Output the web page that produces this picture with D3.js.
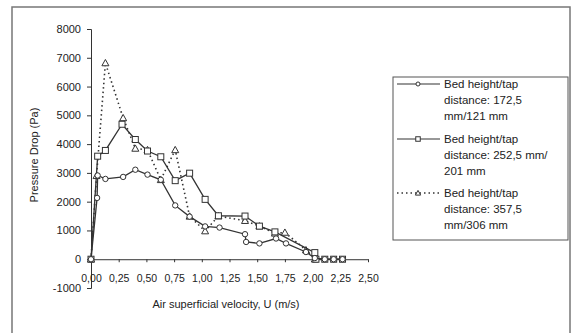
<!DOCTYPE html>
<html><head><meta charset="utf-8">
<script src="https://cdn.jsdelivr.net/npm/d3@7"></script>
<style>body{margin:0;background:#fff}svg{display:block}text{font-family:"Liberation Sans",Arial,sans-serif;fill:#222}</style>
</head><body><svg id="c" width="572" height="333"></svg>
<script>
const xTicks = [0,0.25,0.5,0.75,1,1.25,1.5,1.75,2,2.25,2.5];
const yTicks = [-1000,0,1000,2000,3000,4000,5000,6000,7000,8000];
const seriesNames = [
  ["Bed height/tap","distance: 172,5","mm/121 mm"],
  ["Bed height/tap","distance: 252,5 mm/","201 mm"],
  ["Bed height/tap","distance: 357,5","mm/306 mm"]
];
const s1U = [0,0.055,0.06,0.13,0.29,0.40,0.51,0.63,0.76,0.89,1.03,1.16,1.39,1.40,1.52,1.67,1.76,1.94,2.02,2.11,2.19,2.27];
const s1P = [0,2130,2910,2790,2860,3110,2940,2760,1870,1480,1140,1100,870,600,550,720,550,250,40,0,0,0];
const s2U = [0,0.06,0.13,0.28,0.40,0.51,0.63,0.76,0.89,1.03,1.15,1.39,1.52,1.66,2.02,2.03,2.11,2.19,2.27];
const s2P = [0,3580,3780,4690,4160,3760,3560,2730,2990,2080,1510,1500,1150,950,230,0,0,0,0];
const s3U = [0,0.05,0.13,0.29,0.40,0.51,0.63,0.76,0.89,1.03,1.15,1.39,1.52,1.66,1.75,1.94,2.02];
const s3P = [0,2900,6820,4910,3850,3800,2760,3800,1490,980,1500,1340,1150,900,930,320,0];

const svg = d3.select("#c");
svg.append("rect").attr("x",12).attr("y",7).attr("width",558).attr("height",340)
  .attr("fill","none").attr("stroke","#777").attr("stroke-width",1.5);

const x = d3.scaleLinear().domain([0,2.5]).range([91,368]);
const y = d3.scaleLinear().domain([-1000,8000]).range([288,29]);
const fmt = d => d3.format(".2f")(d).replace(".",",");

const gy = svg.append("g").attr("transform",`translate(${x(0)},0)`)
  .call(d3.axisLeft(y).tickValues(yTicks).tickSize(4).tickPadding(6).tickFormat(d=>d));
gy.selectAll("text").style("font-size","11px");
const gx = svg.append("g").attr("transform",`translate(0,${y(0)})`)
  .call(d3.axisBottom(x).tickValues(xTicks).tickSize(3).tickPadding(12).tickFormat(fmt).tickSizeOuter(0));
gx.selectAll("text").style("font-size","10.5px");
svg.selectAll(".domain, .tick line").attr("stroke","#333");

svg.append("text").attr("transform","translate(38,155) rotate(-90)").attr("text-anchor","middle")
  .style("font-size","11px").text("Pressure Drop (Pa)");
svg.append("text").attr("x",226).attr("y",308).attr("text-anchor","middle")
  .style("font-size","11px").text("Air superficial velocity, U (m/s)");

const line = d3.line().x(d=>x(d[0])).y(d=>y(d[1]));
const data = [
  {u:s1U,p:s1P,dash:null,m:"circle"},
  {u:s2U,p:s2P,dash:null,m:"square"},
  {u:s3U,p:s3P,dash:"1.5,3",m:"triangle"}
];
function marker(g,type,cx,cy,k){
  k = k||1;
  if(type==="circle") g.append("circle").attr("cx",cx).attr("cy",cy).attr("r",2.7*k);
  else if(type==="square") g.append("rect").attr("x",cx-3*k).attr("y",cy-3*k).attr("width",6*k).attr("height",6*k);
  else g.append("path").attr("d",`M${cx},${cy-3.5*k}L${cx+3.5*k},${cy+2.8*k}L${cx-3.5*k},${cy+2.8*k}Z`);
}
data.slice().reverse().forEach(s=>{
  const pts = s.u.map((u,i)=>[u,s.p[i]]);
  svg.append("path").datum(pts).attr("d",line).attr("fill","none").attr("stroke","#333")
    .attr("stroke-width",s.dash?1.6:1.3).attr("stroke-dasharray",s.dash);
  const g = svg.append("g").attr("fill","#fff").attr("stroke","#333").attr("stroke-width",1);
  pts.forEach(p=>marker(g,s.m,x(p[0]),y(p[1])));
});

// legend
const lg = svg.append("g");
lg.append("rect").attr("x",393).attr("y",77).attr("width",175).attr("height",163)
  .attr("fill","#fff").attr("stroke","#555").attr("stroke-width",1);
const rowY = [88,143,197];
seriesNames.forEach((lines,i)=>{
  const yy = rowY[i];
  lg.append("line").attr("x1",397).attr("x2",440).attr("y1",yy-4).attr("y2",yy-4)
    .attr("stroke","#333").attr("stroke-width",data[i].dash?1.4:1.2).attr("stroke-dasharray",data[i].dash);
  const g = lg.append("g").attr("fill","#fff").attr("stroke","#333");
  marker(g,data[i].m,418,yy-4,0.75);
  lines.forEach((t,j)=>lg.append("text").attr("x",444).attr("y",yy+j*16.2).style("font-size","11.5px").text(t));
});
</script></body></html>
